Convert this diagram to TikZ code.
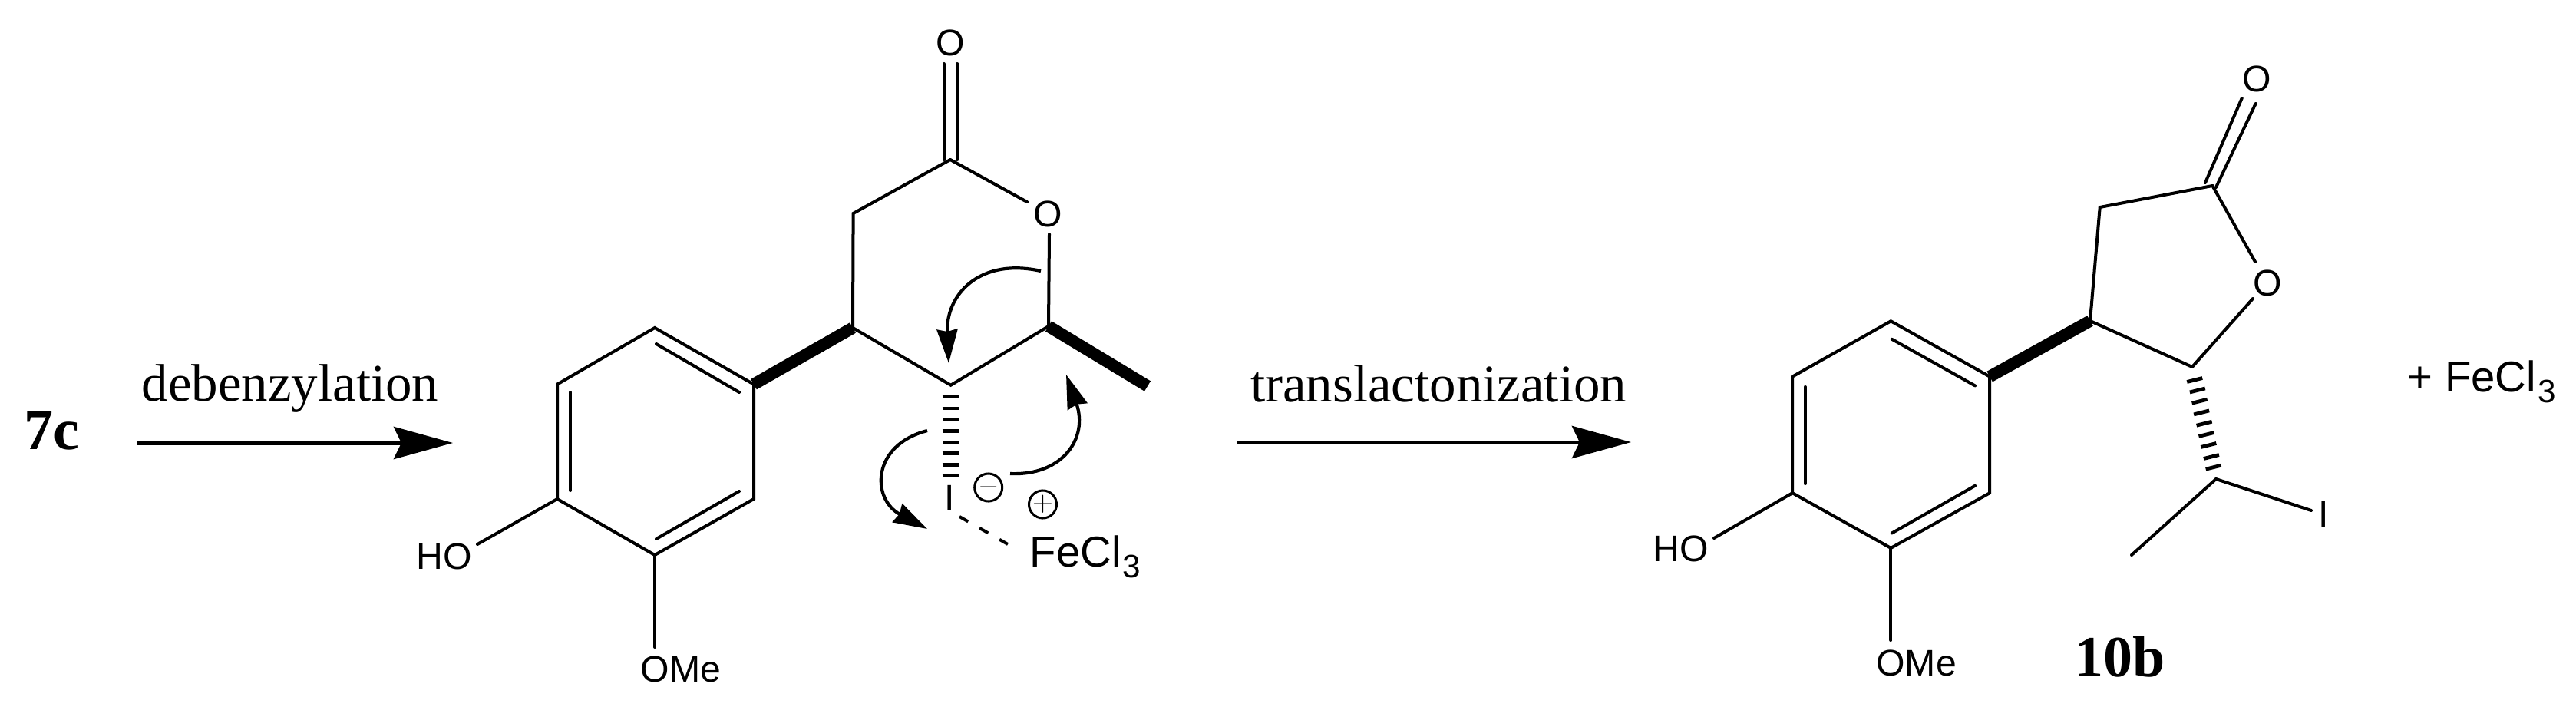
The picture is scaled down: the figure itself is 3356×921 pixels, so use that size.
\documentclass[tikz,border=0pt]{standalone}
\usepackage{fontspec}
\setmainfont{Liberation Serif}
\setsansfont{Liberation Sans}
\usetikzlibrary{arrows.meta,calc}
\newcommand{\feclthree}{FeCl\raisebox{-0.14cm}{\fontsize{12}{12}\selectfont\kern0.05em 3}}
\tikzset{
	bond/.style={line width=0.04cm, line cap=round, line join=miter},
	boldbond/.style={line width=0.155cm},
	hashbar/.style={line width=0.048cm},
	rxnarrow/.style={line width=0.05cm, -{Stealth[length=0.77cm,width=0.42cm,inset=0.1cm]}},
	pusharrow/.style={line width=0.042cm, -{Stealth[length=0.44cm,width=0.27cm,inset=0.03cm]}},
	atomlabel/.style={font=\sffamily\fontsize{13.7}{14}\selectfont, inner sep=0pt, anchor=base},
	saltlabel/.style={font=\sffamily\fontsize{16}{16}\selectfont, inner sep=0pt, anchor=base west},
	rxnlabel/.style={font=\fontsize{19.6}{20}\selectfont, inner sep=0pt, anchor=base},
	cpdlabel/.style={font=\bfseries\fontsize{21.6}{22}\selectfont, inner sep=0pt, anchor=base},
	chargemark/.style={circle, draw, line width=0.03cm, minimum size=0.36cm, inner sep=0pt, font=\fontsize{10}{10}\selectfont}
}
\begin{document}
\begin{tikzpicture}[x=0.01cm, y=-0.01cm]
	\useasboundingbox (0, 0) rectangle (3356, 921);

	%%%%% REACTION ARROWS %%%%%
	\node[cpdlabel] (cpda) at (67, 585) {7c};
	\node[rxnlabel] (debenz) at (378, 522) {debenzylation};
	\coordinate (arra) at (178.6, 577);
	\coordinate (arrb) at (590, 577);
	\draw[rxnarrow] (arra) -- (arrb);

	\node[rxnlabel] (translac) at (1874, 523) {translactonization};
	\coordinate (arrc) at (1611, 576);
	\coordinate (arrd) at (2125, 576);
	\draw[rxnarrow] (arrc) -- (arrd);

	%%%%% LEFT MOLECULE: ARYL RING %%%%%
	\coordinate (la1) at (853, 427);
	\coordinate (la2) at (726, 500.6);
	\coordinate (la3) at (726, 650);
	\coordinate (la4) at (853, 723);
	\coordinate (la5) at (982, 650);
	\coordinate (la6) at (982, 500.6);
	\draw[bond] (la1) -- (la2) -- (la3) -- (la4) -- (la5) -- (la6) -- cycle;

	\coordinate (lda) at (855, 448);
	\coordinate (ldb) at (963, 511);
	\draw[bond] (lda) -- (ldb);
	\coordinate (ldc) at (743, 511);
	\coordinate (ldd) at (743, 639);
	\draw[bond] (ldc) -- (ldd);
	\coordinate (lde) at (855, 702);
	\coordinate (ldf) at (963, 640);
	\draw[bond] (lde) -- (ldf);

	\node[atomlabel] (lho) at (578.5, 741) {HO};
	\coordinate (lhoend) at (622, 709);
	\draw[bond] (la3) -- (lhoend);
	\node[atomlabel] (lome) at (887, 888) {OMe};
	\coordinate (lomeend) at (853, 843);
	\draw[bond] (la4) -- (lomeend);

	%%%%% LEFT MOLECULE: LACTONE %%%%%
	\coordinate (lc4) at (1111, 427);
	\coordinate (lc3) at (1238.7, 501.7);
	\coordinate (lc2) at (1366, 425);
	\coordinate (lch) at (1111.6, 278);
	\coordinate (lco) at (1238, 208);
	\coordinate (lme) at (1495, 503);
	\draw[boldbond] (la6) -- (lc4);
	\draw[boldbond] (lc2) -- (lme);
	\draw[bond] (lc4) -- (lc3) -- (lc2);
	\draw[bond] (lc4) -- (lch) -- (lco);

	\node[atomlabel] (lotop) at (1238, 72) {O};
	\coordinate (lcoa) at (1229.6, 208);
	\coordinate (lcob) at (1229.6, 83);
	\coordinate (lcoc) at (1247.4, 208);
	\coordinate (lcod) at (1247.4, 83);
	\draw[bond] (lcoa) -- (lcob);
	\draw[bond] (lcoc) -- (lcod);

	\node[atomlabel] (loring) at (1365, 295) {O};
	\coordinate (loa) at (1338, 263);
	\coordinate (lob) at (1367, 305);
	\draw[bond] (lco) -- (loa);
	\draw[bond] (lob) -- (lc2);

	%%%%% LEFT MOLECULE: IODINE AND FECL3 %%%%%
	\draw[hashbar] (1227.5, 517) -- (1249.5, 517);
	\draw[hashbar] (1227.5, 532) -- (1249.5, 532);
	\draw[hashbar] (1227.5, 546.5) -- (1249.5, 546.5);
	\draw[hashbar] (1227.5, 561.5) -- (1249.5, 561.5);
	\draw[hashbar] (1227.5, 576) -- (1249.5, 576);
	\draw[hashbar] (1227.5, 590.5) -- (1249.5, 590.5);
	\draw[hashbar] (1227.5, 605.5) -- (1249.5, 605.5);
	\draw[hashbar] (1227.5, 620) -- (1249.5, 620);

	\node[atomlabel] (liod) at (1237.5, 665) {I};
	\node[saltlabel] (lfe) at (1341, 738) {\feclthree};
	\coordinate (ldsa) at (1250, 673);
	\coordinate (ldsb) at (1313, 709);
	\draw[line width=0.04cm, dash pattern=on 0.13cm off 0.17cm] (ldsa) -- (ldsb);

	\node[chargemark] (lminus) at (1287.7, 635) {$-$};
	\node[chargemark] (lplus) at (1358.5, 657) {$+$};

	\coordinate (psa) at (1356, 353);
	\coordinate (psb) at (1236, 473);
	\draw[pusharrow] (psa) .. controls (1275, 335) and (1232, 385) .. (psb);
	\coordinate (psc) at (1208, 561);
	\coordinate (psd) at (1208, 689);
	\draw[pusharrow] (psc) .. controls (1135, 580) and (1135, 650) .. (psd);
	\coordinate (pse) at (1316, 617);
	\coordinate (psf) at (1389, 488);
	\draw[pusharrow] (pse) .. controls (1385, 620) and (1418, 570) .. (psf);

	%%%%% RIGHT MOLECULE: ARYL RING %%%%%
	\coordinate (ra1) at (2463.4, 418.3);
	\coordinate (ra2) at (2335.2, 490.6);
	\coordinate (ra3) at (2335.2, 642.2);
	\coordinate (ra4) at (2463.4, 713.9);
	\coordinate (ra5) at (2592.2, 642.2);
	\coordinate (ra6) at (2592.2, 490.6);
	\draw[bond] (ra1) -- (ra2) -- (ra3) -- (ra4) -- (ra5) -- (ra6) -- cycle;

	\coordinate (rda) at (2464.7, 441.8);
	\coordinate (rdb) at (2573, 502.4);
	\draw[bond] (rda) -- (rdb);
	\coordinate (rdc) at (2351.8, 504);
	\coordinate (rdd) at (2351.8, 630);
	\draw[bond] (rdc) -- (rdd);
	\coordinate (rde) at (2464.7, 694.5);
	\coordinate (rdf) at (2573, 632.8);
	\draw[bond] (rde) -- (rdf);

	\node[atomlabel] (rho) at (2189.5, 731.5) {HO};
	\coordinate (rhoend) at (2233, 701);
	\draw[bond] (ra3) -- (rhoend);
	\node[atomlabel] (rome) at (2496.6, 880) {OMe};
	\coordinate (romeend) at (2463.4, 834);
	\draw[bond] (ra4) -- (romeend);

	%%%%% RIGHT MOLECULE: LACTONE %%%%%
	\coordinate (rc4) at (2723, 418);
	\coordinate (rc5) at (2856, 478);
	\coordinate (rch) at (2735.7, 270);
	\coordinate (rco) at (2882.4, 242);
	\draw[boldbond] (ra6) -- (rc4);
	\draw[bond] (rc4) -- (rc5);
	\draw[bond] (rc4) -- (rch) -- (rco);

	\node[atomlabel] (rotop) at (2939.8, 120) {O};
	\coordinate (rcoa) at (2873, 238);
	\coordinate (rcob) at (2920.7, 128);
	\coordinate (rcoc) at (2887, 244);
	\coordinate (rcod) at (2938.6, 135);
	\draw[bond] (rcoa) -- (rcob);
	\draw[bond] (rcoc) -- (rcod);

	\node[atomlabel] (roring) at (2954, 385) {O};
	\coordinate (roa) at (2938, 341);
	\coordinate (rob) at (2935, 389);
	\draw[bond] (rco) -- (roa);
	\draw[bond] (rob) -- (rc5);

	\draw[hashbar] (2849.2, 497.5) -- (2869.2, 492.5);
	\draw[hashbar] (2852.8, 511) -- (2872.8, 506);
	\draw[hashbar] (2855.6, 525.2) -- (2875.6, 520.2);
	\draw[hashbar] (2858.1, 539.9) -- (2878.1, 534.9);
	\draw[hashbar] (2861.6, 554.2) -- (2881.6, 549.2);
	\draw[hashbar] (2864.5, 568.5) -- (2884.5, 563.5);
	\draw[hashbar] (2867.3, 582.5) -- (2887.3, 577.5);
	\draw[hashbar] (2870.9, 597.5) -- (2890.9, 592.5);
	\draw[hashbar] (2873.7, 611.2) -- (2893.7, 606.2);

	\coordinate (rci) at (2887, 624);
	\coordinate (rcme) at (2777, 723);
	\coordinate (riend) at (3011, 665);
	\node[atomlabel] (riod) at (3027, 686) {I};
	\draw[bond] (rcme) -- (rci) -- (riend);

	\node[cpdlabel] (cpdb) at (2761.5, 881) {10b};
	\node[saltlabel] (rfe) at (3136, 510.7) {+ \feclthree};
\end{tikzpicture}
\end{document}
